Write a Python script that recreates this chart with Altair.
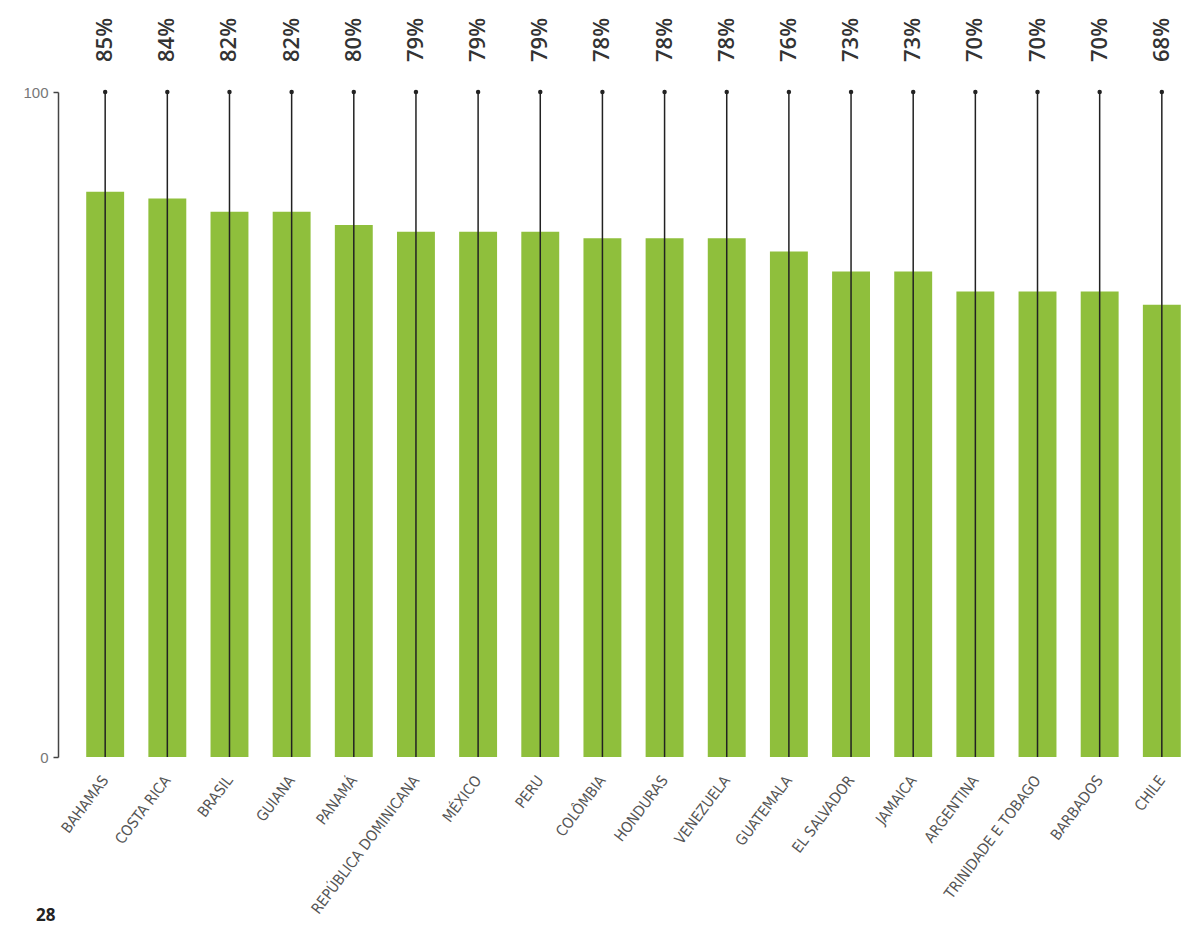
import altair as alt
import pandas as pd

countries = ["BAHAMAS", "COSTA RICA", "BRASIL", "GUIANA", "PANAMÁ",
             "REPÚBLICA DOMINICANA", "MÉXICO", "PERU", "COLÔMBIA", "HONDURAS",
             "VENEZUELA", "GUATEMALA", "EL SALVADOR", "JAMAICA", "ARGENTINA",
             "TRINIDADE E TOBAGO", "BARBADOS", "CHILE"]
values = [85, 84, 82, 82, 80, 79, 79, 79, 78, 78, 78, 76, 73, 73, 70, 70, 70, 68]
y_ticks = [0, 100]

df = pd.DataFrame({"country": countries, "value": values})
df["label"] = [f"{v}%" for v in values]

GREEN = "#8fbf3c"
LABEL_FONT = "'Liberation Sans Narrow', 'DejaVu Sans Condensed', 'Liberation Sans', sans-serif"

x_enc = alt.X(
    "country:N",
    sort=None,
    scale=alt.Scale(paddingInner=0.39, paddingOuter=0.1),
    axis=alt.Axis(
        title=None, labelAngle=-53, labelFont=LABEL_FONT,
        labelFontSize=15, labelColor="#555", labelPadding=20,
        ticks=False, domain=False, labelOverlap=False, labelLimit=0,
    ),
)

base = alt.Chart(df).encode(x=x_enc)

bars = base.mark_bar(color=GREEN).encode(
    y=alt.Y(
        "value:Q",
        scale=alt.Scale(domain=[0, 100], nice=False),
        axis=alt.Axis(
            title=None, values=y_ticks, grid=False, offset=22,
            domainColor="#444", domainWidth=1.5, tickColor="#444",
            tickSize=5, tickWidth=1.5, labelColor="#777", labelFontSize=15,
            labelFont="Liberation Sans, sans-serif", labelPadding=5,
        ),
    )
)

rules = base.mark_rule(color="#222", strokeWidth=1.5).encode(
    y=alt.datum(0), y2=alt.datum(100)
)

dots = base.mark_point(filled=True, color="#222", size=20, opacity=1).encode(
    y=alt.datum(100)
)

labels = base.mark_text(
    angle=270, align="left", baseline="middle", dx=30,
    font="Open Sans", fontSize=22, fontWeight=600, color="#333",
).encode(y=alt.datum(100), text="label:N")

chart = (
    alt.layer(bars, rules, dots, labels)
    .properties(
        width=1107,
        height=665,
        autosize=alt.AutoSizeParams(type="none"),
        padding={"left": 72, "top": 84, "right": 0, "bottom": 168},
        title=alt.TitleParams(
            text="28", orient="bottom", anchor="start", dx=13, dy=-12,
            fontSize=17, fontWeight="bold", color="#222", font="Open Sans",
        ),
    )
    .configure_view(stroke=None)
)

chart.save("out.html", embed_options={"renderer": "svg", "actions": False})
